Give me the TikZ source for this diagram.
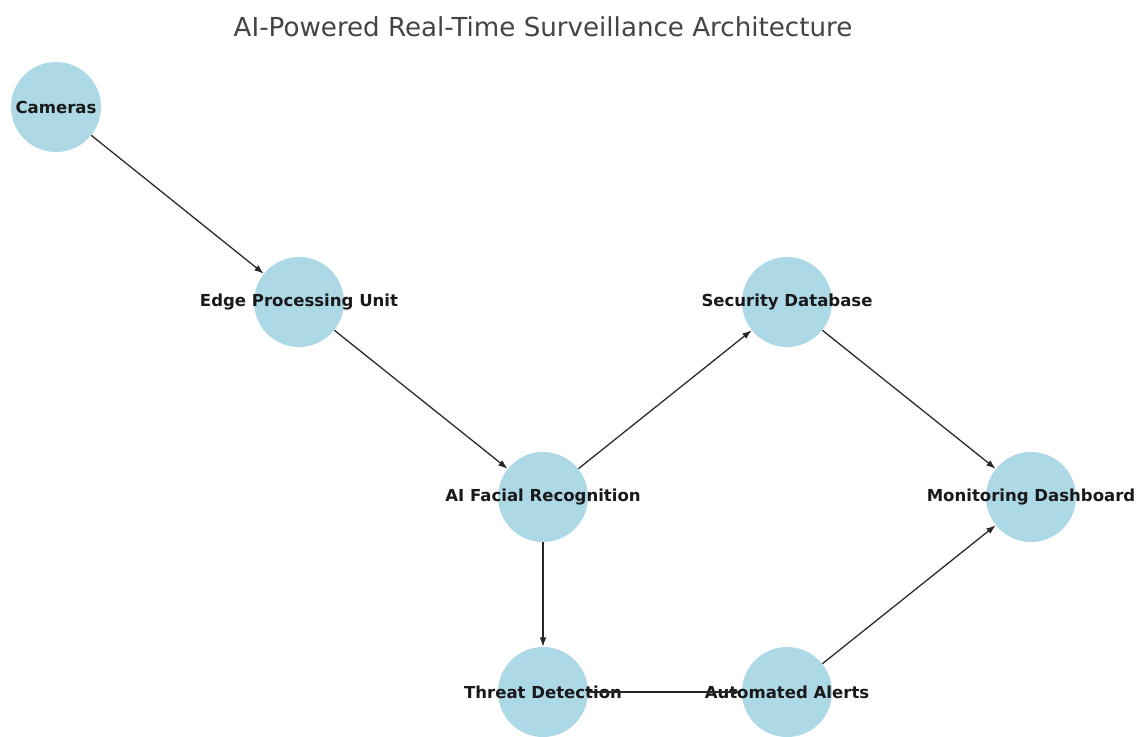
\documentclass[tikz,border=0pt]{standalone}
\usepackage{fontspec}
\setmainfont{DejaVu Sans}
\usetikzlibrary{arrows.meta}
\definecolor{nodeblue}{HTML}{ADD8E6}
\definecolor{titlegray}{HTML}{444444}

\begin{document}
\begin{tikzpicture}[x=0.75pt,y=-0.75pt,>={Latex[length=7pt,width=5pt]},
  unit/.style={circle,fill=nodeblue,minimum size=67.5pt,inner sep=0pt,
    label={[font=\fontsize{12.4}{14}\selectfont\bfseries,text=black!90]center:#1}},
  flow/.style={->,line width=0.95pt,black!85}]
  \useasboundingbox (0,0) rectangle (1141,736);
  \node[text=titlegray,font=\fontsize{19.6}{22}\selectfont] (title) at (543,27) {AI-Powered Real-Time Surveillance Architecture};
  % nodes
  \node[unit=Cameras] (cam) at (56,107) {};
  \node[unit=Edge Processing Unit] (edge) at (299,302) {};
  \node[unit=AI Facial Recognition] (face) at (543,497) {};
  \node[unit=Security Database] (db) at (787,302) {};
  \node[unit=Monitoring Dashboard] (dash) at (1031,497) {};
  \node[unit=Threat Detection] (threat) at (543,692) {};
  \node[unit=Automated Alerts] (alert) at (787,692) {};
  % edges
  \draw[flow] (cam) -- (edge);
  \draw[flow] (edge) -- (face);
  \draw[flow] (face) -- (db);
  \draw[flow] (face) -- (threat);
  \draw[flow] (db) -- (dash);
  \draw[flow] (threat) -- (alert);
  \draw[flow] (alert) -- (dash);
\end{tikzpicture}
\end{document}
